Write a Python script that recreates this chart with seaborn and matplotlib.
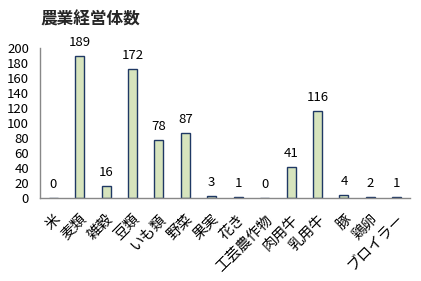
import matplotlib
matplotlib.use("Agg")
import matplotlib.pyplot as plt
import seaborn as sns
import pandas as pd

categories = ["米", "麦類", "雑穀", "豆類", "いも類", "野菜", "果実", "花き",
              "工芸農作物", "肉用牛", "乳用牛", "豚", "鶏卵", "ブロイラー"]
values = [0, 189, 16, 172, 78, 87, 3, 1, 0, 41, 116, 4, 2, 1]
title = "農業経営体数"

sns.set_theme(style="white")
plt.rcParams['font.family'] = ['Noto Sans CJK JP', 'DejaVu Sans']

df = pd.DataFrame({"cat": categories, "val": values})

fig = plt.figure(figsize=(4.21, 2.81), dpi=100)
ax = fig.add_axes([0.095, 0.295, 0.879, 0.534])
sns.barplot(data=df, x="cat", y="val", ax=ax, color="#D7E4BD",
            edgecolor="#1F3864", linewidth=1.0, width=0.34, saturation=1)

for i, v in enumerate(values):
    ax.annotate(str(v), (i, v), xytext=(0, 5), textcoords="offset points",
                ha="center", va="bottom", fontsize=9.5, color="black")

ax.set_ylim(0, 200)
ax.set_yticks(range(0, 201, 20))
ax.set_xlim(-0.5, len(categories) - 0.5)
ax.set_xlabel("")
ax.set_ylabel("")
ax.tick_params(axis="both", length=0, labelsize=9.5, colors="black")
ax.tick_params(axis="x", labelsize=10.5)
ax.tick_params(axis="y", pad=8)
ax.tick_params(axis="x", pad=10)
plt.setp(ax.get_xticklabels(), rotation=45, ha="right", rotation_mode="anchor")
for s in ["top", "right"]:
    ax.spines[s].set_visible(False)
for s in ["left", "bottom"]:
    ax.spines[s].set_color("#888888")
    ax.spines[s].set_linewidth(1.0)

fig.text(0.214, 0.929, title, ha="center", va="center", fontsize=12, fontweight="bold")

fig.savefig("out.png", dpi=100)
